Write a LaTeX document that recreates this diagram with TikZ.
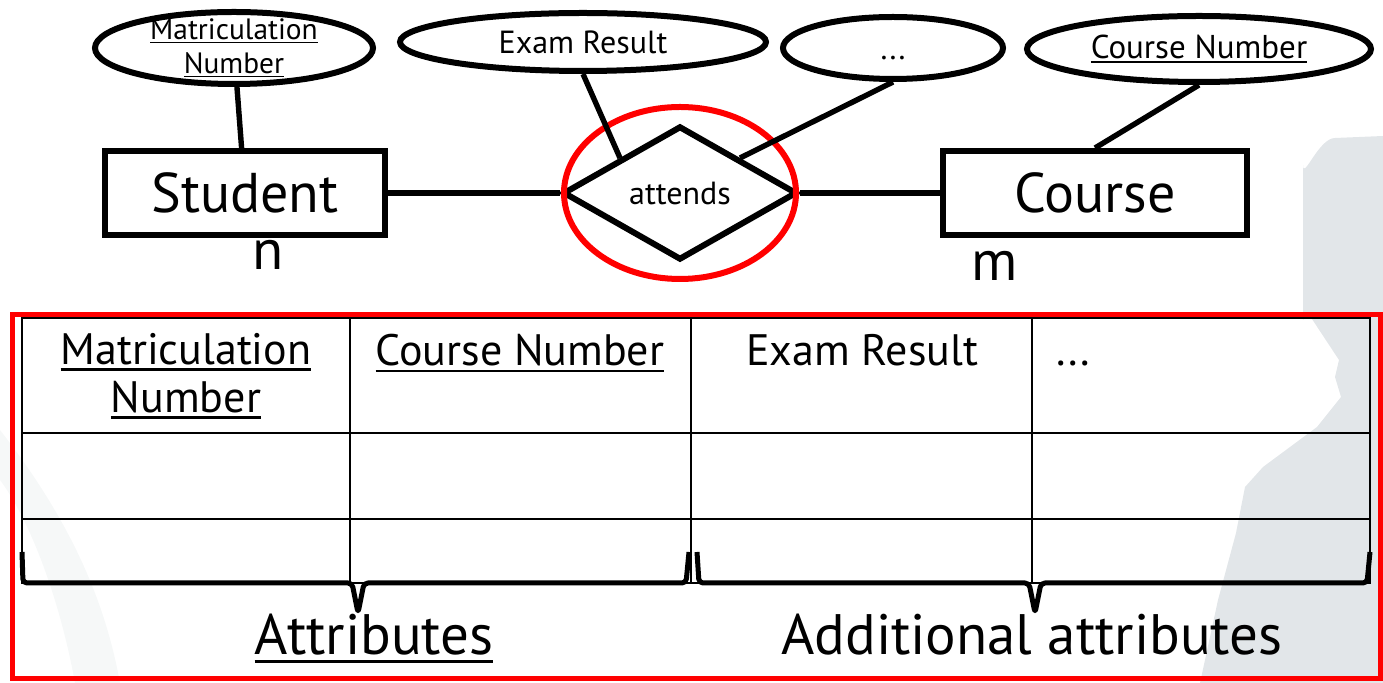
\documentclass[tikz,border=0pt]{standalone}
\usepackage{fontspec}
\setmainfont{PT Sans}
\usepackage{tikz}
\usetikzlibrary{shapes.geometric}
\definecolor{bgshade}{RGB}{226,230,233}
\newcommand{\keyline}[1]{\leavevmode\setbox0\hbox{#1}\rlap{\raisebox{-0.14em}{\rule{\wd0}{0.055em}}}\box0}

\begin{document}
\begin{tikzpicture}[x=0.5pt,y=-0.5pt,
    entity/.style={draw,line width=3pt,minimum height=42pt,inner sep=0pt,font=\fontsize{28}{32}\selectfont},
    relation/.style={draw,diamond,line width=3pt,minimum width=117pt,minimum height=67pt,inner sep=0pt,font=\fontsize{16}{18}\selectfont},
    attrib/.style={draw,ellipse,line width=3pt,inner sep=0pt,font=\fontsize{16}{18}\selectfont},
    link/.style={line width=2.7pt},
    cell/.style={font=\fontsize{22}{24}\selectfont,inner sep=0pt},
    brace/.style={line width=2.5pt,rounded corners=2pt,line join=round},
    sumtext/.style={font=\fontsize{28.5}{32}\selectfont,inner sep=0pt}]
  \useasboundingbox (0,0) rectangle (1383,683);
  % background
  \fill[bgshade] (1303,320) -- (1303,165) to[out=-90,in=180] (1335,138) -- (1383,136) -- (1383,683)
    -- (1200,683) -- (1218,600) -- (1236,533) -- (1245,487) -- (1263,467) -- (1317,427)
    -- (1341,397) -- (1335,377) -- (1339,360) -- (1308,313) -- cycle;
  \fill[bgshade!30] (0,430) .. controls (70,520) and (105,600) .. (120,683) -- (75,683)
    .. controls (60,600) and (30,520) .. (0,480) -- cycle;

  % er diagram
  \node[entity,minimum width=140pt] (student) at (245,193) {Student};
  \node[entity,minimum width=152pt] (course) at (1095,193) {Course};
  \node[relation] (attends) at (680,193) {attends};
  \node[draw=red,ellipse,line width=3pt,minimum width=116pt,minimum height=86pt] (focus) at (680,193) {};
  \node[attrib,minimum width=139pt,minimum height=36pt] (matnr) at (234,48) {};
  \node[font=\fontsize{14.7}{17}\selectfont,align=center,inner sep=0pt] (matnrtxt) at (matnr.center) {\keyline{Matriculation}\\\keyline{Number}};
  \node[attrib,minimum width=183pt,minimum height=29pt] (exam) at (583,42) {Exam Result};
  \node[attrib,minimum width=110pt,minimum height=31pt] (dots) at (893,48) {};
  \node[font=\fontsize{16}{18}\selectfont,inner sep=0pt,anchor=base] (dotstxt) at (893,60) {...};
  \node[attrib,minimum width=172pt,minimum height=33pt,font=\fontsize{16.5}{18}\selectfont] (coursenr) at (1199,49) {\keyline{Course Number}};
  \node[sumtext] (n) at (268,255) {n};
  \node[sumtext] (m) at (995,266) {m};

  \draw[link] (matnr) -- (student);
  \draw[link] (exam.south) -- (attends.north west);
  \draw[link] (dots.south) -- (attends.north east);
  \draw[link] (coursenr.south) -- (course.north);
  \draw[link] (student) -- (attends);
  \draw[link] (attends) -- (course);

  % relation table
  \draw[line width=1pt] (22,318) rectangle (1370,583);
  \foreach \x in {350,691,1032} \draw[line width=1pt] (\x,318) -- (\x,583);
  \foreach \y in {433,519} \draw[line width=1pt] (22,\y) -- (1370,\y);
  \node[cell,align=center,anchor=north] (h1) at (186,333) {\keyline{Matriculation}\\\keyline{Number}};
  \node[cell,anchor=base] (h2) at (520,366) {\keyline{Course Number}};
  \node[cell,anchor=base] (h3) at (862,366) {Exam Result};
  \node[cell,anchor=base west] (h4) at (1056,366) {...};

  \draw[brace] (22,552) -- (23,583) -- (352,583) -- (358,613) -- (364,583) -- (686,583) -- (689,552);
  \draw[brace] (697,552) -- (699,583) -- (1029,583) -- (1035,613) -- (1041,583) -- (1367,583) -- (1370,552);
  \node[sumtext,anchor=base] (attr) at (374,655) {\keyline{Attributes}};
  \node[sumtext,anchor=base] (addattr) at (1032,655) {Additional attributes};

  \draw[red,line width=2.5pt] (12,315) rectangle (1380,679);
\end{tikzpicture}
\end{document}
